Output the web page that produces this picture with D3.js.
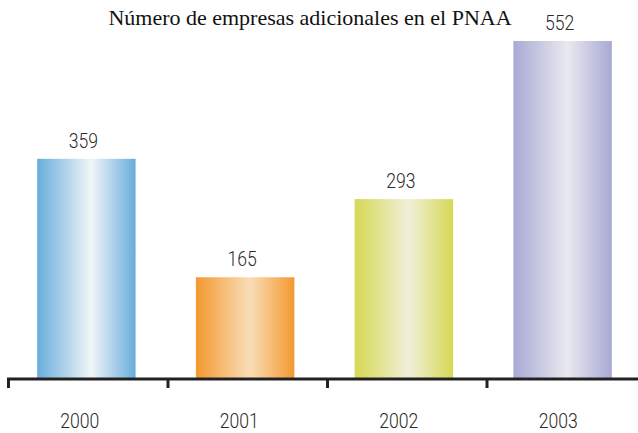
<!DOCTYPE html>
<html>
<head>
<meta charset="utf-8">
<script src="https://cdn.jsdelivr.net/npm/d3@7"></script>
<style>
  body { margin: 0; background: #fff; }
  .lbl { font-family: Roboto, "DejaVu Sans", sans-serif; font-weight: 300; font-size: 20px; fill: #2a2a2a; }
</style>
</head>
<body>
<div id="chart"></div>
<script>
var years = ["2000", "2001", "2002", "2003"];
var values = [359, 165, 293, 552];
var edgeColors = ["#68addc", "#f3992f", "#d5d853", "#a9a9d5"];
var midColors = ["#f1f5f7", "#f9ddb9", "#f0f0da", "#e9e9f0"];

var width = 638, height = 433,
    baseY = 378;

var svg = d3.select("#chart").append("svg")
    .attr("width", width)
    .attr("height", height);

var xScale = d3.scaleBand().domain(years).range([7, 642]).paddingInner(0.38).paddingOuter(0.19);
var tickScale = d3.scaleBand().domain(years).range([7, 645]);
var yScale = d3.scaleLinear().domain([0, 552]).range([baseY, 41]);

var defs = svg.append("defs");
years.forEach(function(y, i) {
    var g = defs.append("linearGradient").attr("id", "grad" + i)
        .attr("x1", "0%").attr("x2", "100%").attr("y1", "0%").attr("y2", "0%");
    g.append("stop").attr("offset", "0%").attr("stop-color", edgeColors[i]);
    g.append("stop").attr("offset", "55%").attr("stop-color", midColors[i]);
    g.append("stop").attr("offset", "100%").attr("stop-color", edgeColors[i]);
});

// title
svg.append("text")
    .attr("x", 310).attr("y", 25)
    .attr("text-anchor", "middle")
    .style("font-family", "'Liberation Serif', 'DejaVu Serif', serif")
    .style("font-size", "22px")
    .style("fill", "#111")
    .text("Número de empresas adicionales en el PNAA");

// bars
svg.selectAll("rect.bar")
    .data(values)
    .enter().append("rect")
    .attr("class", "bar")
    .attr("x", function(d, i) { return xScale(years[i]); })
    .attr("y", function(d) { return yScale(d); })
    .attr("width", xScale.bandwidth())
    .attr("height", function(d) { return baseY - yScale(d); })
    .attr("fill", function(d, i) { return "url(#grad" + i + ")"; });

// value labels (narrowed a bit to look like the condensed original)
svg.selectAll("text.val")
    .data(values)
    .enter().append("text")
    .attr("class", "lbl val")
    .attr("text-anchor", "middle")
    .attr("transform", function(d, i) {
        var cx = xScale(years[i]) + xScale.bandwidth() / 2 - 3;
        return "translate(" + cx + "," + (yScale(d) - 11) + ") scale(0.88,1)";
    })
    .text(function(d) { return d; });

// axis
svg.append("line")
    .attr("x1", 7).attr("x2", width)
    .attr("y1", baseY + 1).attr("y2", baseY + 1)
    .attr("stroke", "#222").attr("stroke-width", 3);

svg.selectAll("line.tick")
    .data(years)
    .enter().append("line")
    .attr("class", "tick")
    .attr("x1", function(d) { return tickScale(d) + 1.5; })
    .attr("x2", function(d) { return tickScale(d) + 1.5; })
    .attr("y1", baseY).attr("y2", baseY + 10)
    .attr("stroke", "#222").attr("stroke-width", 3);

svg.selectAll("text.year")
    .data(years)
    .enter().append("text")
    .attr("class", "lbl year")
    .attr("text-anchor", "middle")
    .attr("transform", function(d) {
        var cx = tickScale(d) + tickScale.bandwidth() / 2 - 7;
        return "translate(" + cx + ",428) scale(0.88,1)";
    })
    .text(function(d) { return d; });
</script>
</body>
</html>
